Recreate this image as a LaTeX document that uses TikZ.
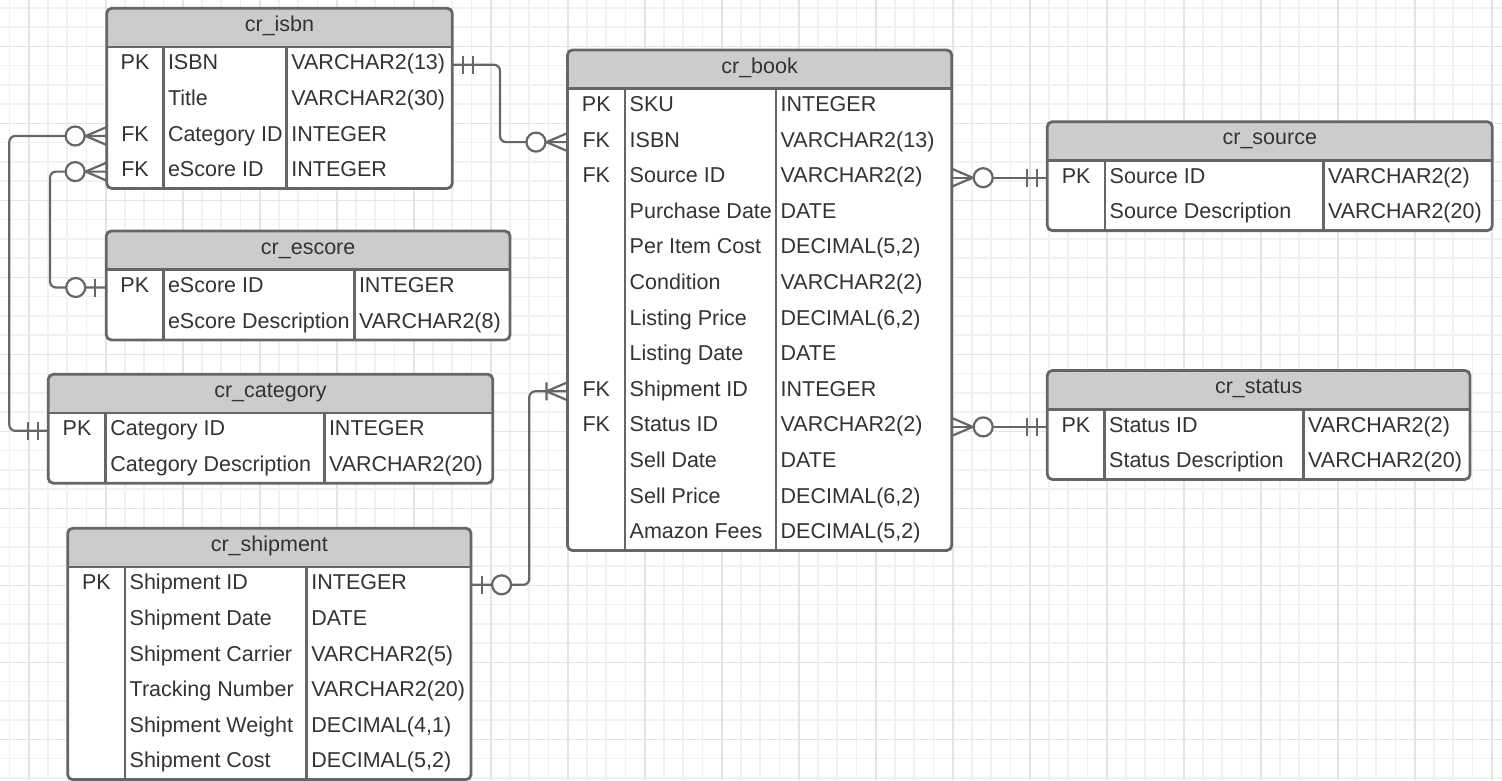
\documentclass[tikz,border=0pt]{standalone}
\usepackage{fontspec}
\setmainfont{Liberation Sans}
\definecolor{erline}{HTML}{666666}
\definecolor{erhead}{HTML}{CCCCCC}
\definecolor{ertext}{HTML}{333333}
\definecolor{gridminor}{HTML}{F1F1F1}
\definecolor{gridmajor}{HTML}{E4E4E4}

% #1 name, #2 left, #3 top, #4 right, #5 key divider, #6 type divider, #7 rows, #8 title, #9 fields
\newcommand{\ertable}[9]{%
  \pgfmathsetmacro\erH{#3+38.7}%
  \pgfmathsetmacro\erB{\erH+#7*35.6-1}%
  \pgfmathsetmacro\erW{#4-#2}%
  \pgfmathsetmacro\erHt{\erB-#3}%
  \node[erframe, minimum width=\erW pt, minimum height=\erHt pt,
    path picture={\fill[erhead] (path picture bounding box.north west) rectangle ([yshift=-38.7pt]path picture bounding box.north east);}]
    (#1) at (#2,#3) {};
  \draw[erdiv] (#2,\erH) -- (#4,\erH) (#5,\erH) -- (#5,\erB) (#6,\erH) -- (#6,\erB);
  \node[ertitle] (#1-title) at ({(#2+#4)/2},{#3+23}) {#8};
  \foreach \ekey/\ename/\etype [count=\erk] in {#9} {
    \pgfmathsetmacro\erY{\erH+17.8+(\erk-1)*35.6}
    \coordinate (#1-r\erk) at (#2,\erY);
    \node[erkey] (#1-k\erk) at ({(#2+#5)/2},\erY+5) {\ekey};
    \node[erfield] (#1-n\erk) at (#5+4.5,\erY+5) {\ename};
    \node[erfield] (#1-t\erk) at (#6+4.5,\erY+5) {\etype};
  }%
}

\begin{document}
\begin{tikzpicture}[x=1pt, y=-1pt, font=\fontsize{21.5}{25}\selectfont,
    erframe/.style={draw=erline, line width=2.8pt, rounded corners=5pt, fill=white,
      anchor=north west, inner sep=0pt, outer sep=0pt},
    erdiv/.style={draw=erline, line width=2.6pt},
    ertitle/.style={text=ertext, anchor=base, inner sep=0pt},
    erkey/.style={text=ertext, anchor=base, inner sep=0pt},
    erfield/.style={text=ertext, anchor=base west, inner sep=0pt},
    erlink/.style={draw=erline, line width=2.2pt, rounded corners=6pt},
    ermark/.style={draw=erline, line width=2.2pt},
    pics/erone/.style={code={\draw[ermark] (11,-9) -- (11,9);}},
    pics/ermandatory/.style={code={\draw[ermark] (10.5,-9) -- (10.5,9) (20.5,-9) -- (20.5,9);}},
    pics/erzeroone/.style={code={\draw[ermark] (11.3,-9) -- (11.3,9);
      \draw[ermark, fill=white] (30.6,0) circle[radius=9.5pt];}},
    pics/erzeromany/.style={code={\draw[ermark] (0,-9) -- (21,0) -- (0,9);
      \draw[ermark, fill=white] (31.5,0) circle[radius=9.5pt];}},
    pics/eronemany/.style={code={\draw[ermark] (0,-9) -- (21,0) -- (0,9) (21,-9) -- (21,9);}},
  ]
  \useasboundingbox (0,0) rectangle (1502,780);
  \fill[white] (0,0) rectangle (1502,780);
  % Grid
  \foreach \i in {0,...,77} \draw[gridminor, line width=1.6pt] ({9.45+19.25*\i},0) -- ++(0,780);
  \foreach \j in {0,...,40} \draw[gridminor, line width=1.6pt] (0,{7.8+19.25*\j}) -- ++(1502,0);
  \foreach \i in {0,...,19} \draw[gridmajor, line width=1.6pt] ({28.7+77*\i},0) -- ++(0,780);
  \foreach \j in {0,...,9} \draw[gridmajor, line width=1.6pt] (0,{46.3+77*\j}) -- ++(1502,0);
  % Tables
  \ertable{isbn}{106.7}{8.3}{452.3}{163.3}{286.7}{4}{cr\_isbn}{PK/ISBN/VARCHAR2(13), /Title/VARCHAR2(30), FK/Category ID/INTEGER, FK/eScore ID/INTEGER}
  \ertable{book}{567.5}{50}{951.7}{625}{776}{13}{cr\_book}{PK/SKU/INTEGER, FK/ISBN/VARCHAR2(13), FK/Source ID/VARCHAR2(2), /Purchase Date/DATE, /Per Item Cost/{DECIMAL(5,2)}, /Condition/VARCHAR2(2), /Listing Price/{DECIMAL(6,2)}, /Listing Date/DATE, FK/Shipment ID/INTEGER, FK/Status ID/VARCHAR2(2), /Sell Date/DATE, /Sell Price/{DECIMAL(6,2)}, /Amazon Fees/{DECIMAL(5,2)}}
  \ertable{source}{1047.3}{121.7}{1492.3}{1105}{1323.3}{2}{cr\_source}{PK/Source ID/VARCHAR2(2), /Source Description/VARCHAR2(20)}
  \ertable{status}{1047.3}{370.5}{1470}{1104.5}{1303.5}{2}{cr\_status}{PK/Status ID/VARCHAR2(2), /Status Description/VARCHAR2(20)}
  \ertable{escore}{106.3}{231}{510}{163.3}{354.3}{2}{cr\_escore}{PK/eScore ID/INTEGER, /eScore Description/VARCHAR2(8)}
  \ertable{category}{48.3}{374.3}{492.7}{105.7}{324.3}{2}{cr\_category}{PK/Category ID/INTEGER, /Category Description/VARCHAR2(20)}
  \ertable{shipment}{67.7}{528.3}{471}{125}{306.7}{6}{cr\_shipment}{PK/Shipment ID/INTEGER, /Shipment Date/DATE, /Shipment Carrier/VARCHAR2(5), /Tracking Number/VARCHAR2(20), /Shipment Weight/{DECIMAL(4,1)}, /Shipment Cost/{DECIMAL(5,2)}}
  % Links
  \draw[erlink] (isbn.east |- isbn-r1) -- ++(47.7,0) |- (book.west |- book-r2);
  \draw[erlink] (isbn.west |- isbn-r3) -- ++(-97.4,0) |- (category.west |- category-r1);
  \draw[erlink] (isbn.west |- isbn-r4) -- ++(-56.7,0) |- (escore.west |- escore-r1);
  \draw[erlink] (book.west |- book-r9) -- ++(-38.2,0) |- (shipment.east |- shipment-r1);
  \draw[erlink] (book.east |- book-r3) -- (source.west |- book-r3);
  \draw[erlink] (book.east |- book-r10) -- (status.west |- book-r10);
  % Ends
  \pic at (isbn.east |- isbn-r1) {ermandatory};
  \pic[xscale=-1] at (book.west |- book-r2) {erzeromany};
  \pic[xscale=-1] at (isbn.west |- isbn-r3) {erzeromany};
  \pic[xscale=-1] at (category.west |- category-r1) {ermandatory};
  \pic[xscale=-1] at (isbn.west |- isbn-r4) {erzeromany};
  \pic[xscale=-1] at (escore.west |- escore-r1) {erzeroone};
  \pic[xscale=-1] at (book.west |- book-r9) {eronemany};
  \pic at (shipment.east |- shipment-r1) {erzeroone};
  \pic at (book.east |- book-r3) {erzeromany};
  \pic[xscale=-1] at (source.west |- book-r3) {ermandatory};
  \pic at (book.east |- book-r10) {erzeromany};
  \pic[xscale=-1] at (status.west |- book-r10) {ermandatory};
\end{tikzpicture}
\end{document}
